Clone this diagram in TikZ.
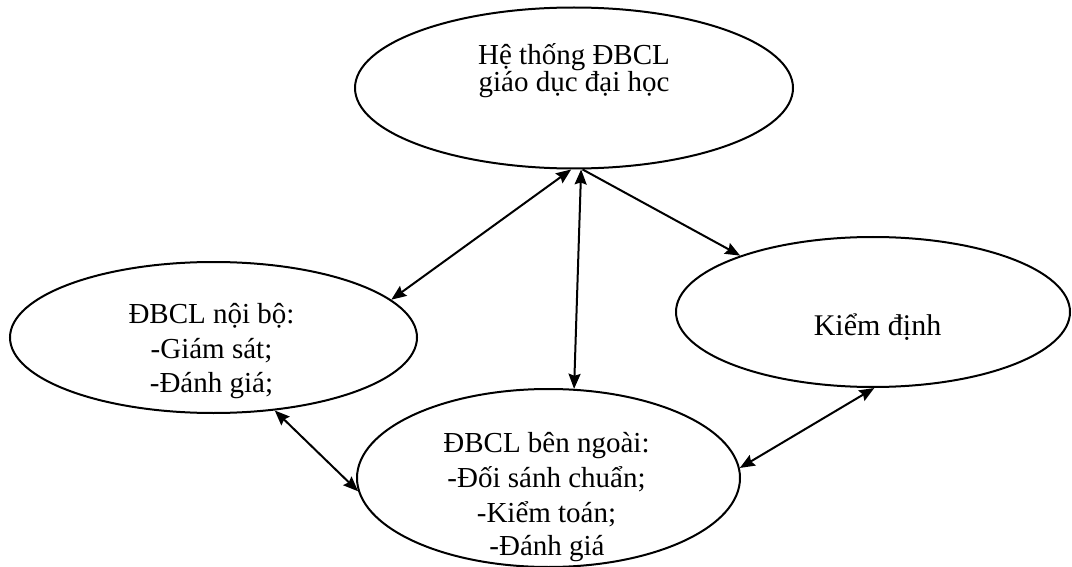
\documentclass[tikz,border=0pt]{standalone}
\usepackage{fontspec}
\setmainfont{Liberation Serif}
\usetikzlibrary{shapes.geometric,arrows.meta}
\tikzset{
  oval/.style={ellipse, draw, line width=2pt, inner sep=0pt},
  lbl/.style={inner sep=0pt, anchor=base, font=\fontsize{29}{35}\selectfont},
  lblk/.style={inner sep=0pt, anchor=base, font=\fontsize{30}{36}\selectfont},
  tip/.tip={Stealth[length=15pt,width=12pt,inset=2pt]},
  both/.style={line width=2pt, tip-tip},
  one/.style={line width=2pt, -tip},
}
\begin{document}
\begin{tikzpicture}[x=1pt,y=-1pt]
\useasboundingbox (0,0) rectangle (1072,567);
% ellipses
\node[oval, minimum width=438pt, minimum height=161pt] (top) at (574,88) {};
\node[oval, minimum width=407pt, minimum height=151pt] (left) at (213.5,337.5) {};
\node[oval, minimum width=394pt, minimum height=150pt] (right) at (873,312) {};
\node[oval, minimum width=383pt, minimum height=178pt] (bot) at (548.5,478) {};
% texts
\node[lbl] (t1) at (574,65) {Hệ thống ĐBCL};
\node[lbl] (t2) at (574,92) {giáo dục đại học};
\node[lbl] (l1) at (211.5,323) {ĐBCL nội bộ:};
\node[lbl] (l2) at (211.5,358) {-Giám sát;};
\node[lbl] (l3) at (211.5,392) {-Đánh giá;};
\node[lblk] (r1) at (877.5,335) {Kiểm định};
\node[lbl] (b1) at (546.5,452) {ĐBCL bên ngoài:};
\node[lbl] (b2) at (546.5,487) {-Đối sánh chuẩn;};
\node[lbl] (b3) at (546.5,522) {-Kiểm toán;};
\node[lbl] (b4) at (547,555) {-Đánh giá};
% connectors
\draw[both] (top.268.6) -- (left.12);
\draw[both] (top.275.3) -- (bot.74.7);
\draw[one] (top.276.1) -- (right.157.9);
\draw[both] (left.310.4) -- (bot.184.2);
\draw[both] (bot.3) -- (right.271.5);
\end{tikzpicture}
\end{document}
